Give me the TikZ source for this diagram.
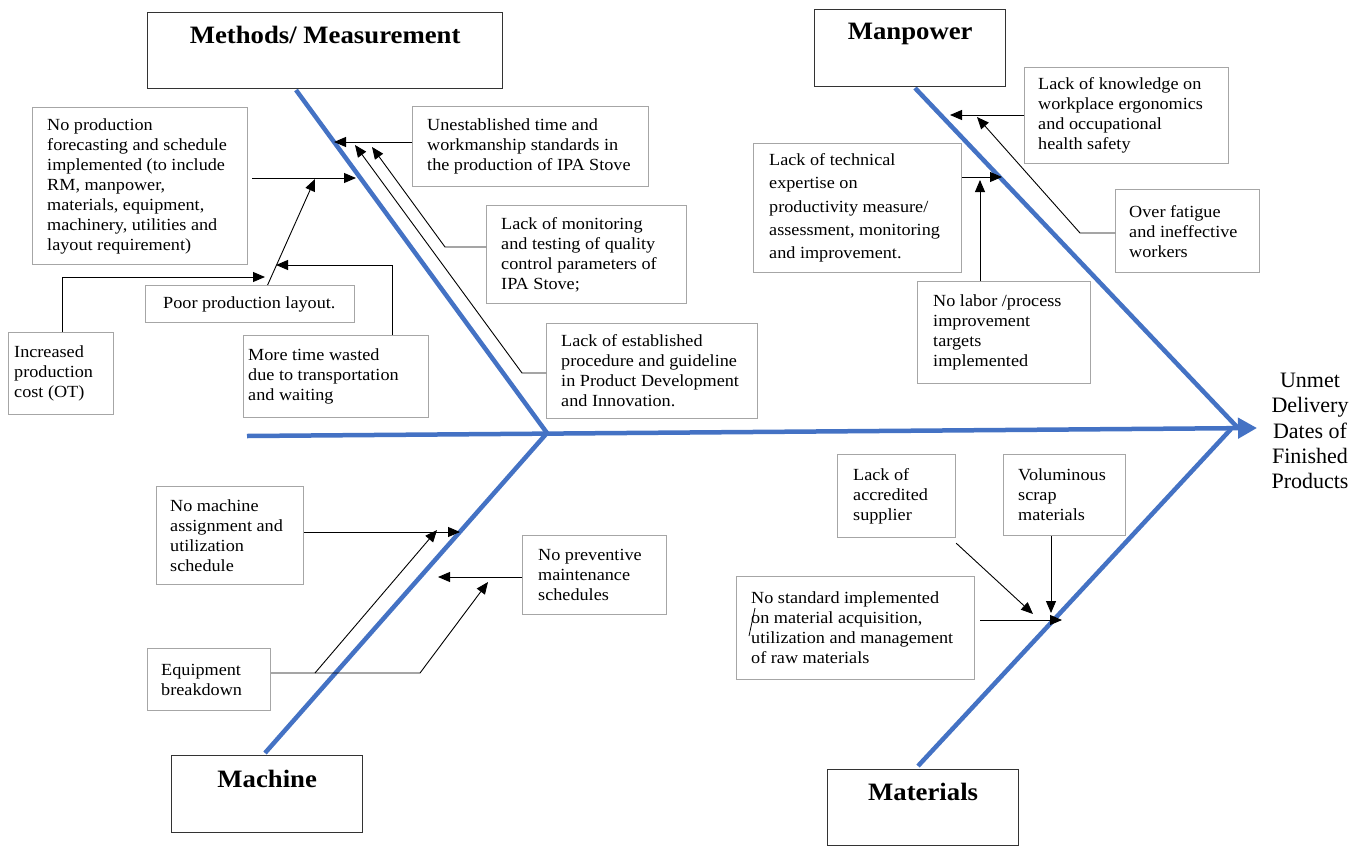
\documentclass[tikz,border=0pt]{standalone}
\usepackage{fontspec}
\newfontfamily\bodyfont[FakeStretch=1.07]{Liberation Serif}
\newfontfamily\effectfont{Liberation Serif}
\usetikzlibrary{arrows.meta}
\definecolor{bone}{HTML}{4472C4}
\begin{document}
\begin{tikzpicture}[x=1pt,y=-1pt,
  bonestyle/.style={draw=bone, line width=4.5pt},
  causebox/.style={draw=black!35, fill=white, line width=1.2pt, anchor=north west, inner sep=0pt},
  causetext/.style={anchor=west, align=left, inner sep=0pt, font=\bodyfont\fontsize{17}{20}\selectfont},
  catbox/.style={draw=black!80, fill=white, line width=1.3pt, anchor=north west, inner sep=0pt},
  cattitle/.style={inner sep=0pt, font=\bodyfont\bfseries\fontsize{25}{28}\selectfont},
  causearrow/.style={draw=black, line width=0.9pt, -{Triangle[length=12pt,width=10pt]}},
  plainline/.style={draw=black, line width=0.9pt}
]
\useasboundingbox (0,0) rectangle (1364,846);
\fill[white] (0,0) rectangle (1364,846);

% skeleton of the fishbone
\coordinate (tail) at (247,436);
\coordinate (head) at (1257,428);
\coordinate (joint) at (547,433);
\coordinate (methtop) at (296,90);
\coordinate (machbot) at (265,753);
\coordinate (mantop) at (915,88);
\coordinate (manend) at (1238,428);
\coordinate (matbot) at (918,766);
\coordinate (matend) at (1231,429);

\draw[bonestyle] (methtop) -- (joint) -- (machbot);
\draw[bonestyle] (mantop) -- (manend);
\draw[bonestyle] (matbot) -- (matend);
\draw[bonestyle, -{Triangle[length=19pt,width=20pt]}] (tail) -- (head);

% category boxes
\node[catbox, minimum width=355pt, minimum height=76pt] (meth) at (147,12) {};
\node[cattitle] at ([yshift=-23pt]meth.north) {Methods/ Measurement};
\node[catbox, minimum width=191pt, minimum height=77pt] (man) at (814,9) {};
\node[cattitle] at ([yshift=-25pt]man.north) {Manpower};
\node[catbox, minimum width=191pt, minimum height=77pt] (mach) at (171,755) {};
\node[cattitle] at ([yshift=-24pt]mach.north) {Machine};
\node[catbox, minimum width=191pt, minimum height=76pt] (mat) at (827,769) {};
\node[cattitle] at ([yshift=-23pt]mat.north) {Materials};

% effect
\node[align=center, inner sep=0pt, font=\effectfont\fontsize{22}{25.3}\selectfont] (effect) at (1310,431)
  {Unmet\\Delivery\\Dates of\\Finished\\Products};

% cause boxes: methods / measurement
\node[causebox, minimum width=215pt, minimum height=157pt] (forecast) at (32,107) {};
\node[causetext] at ([xshift=15pt]forecast.west) {No production\\forecasting and schedule\\implemented (to include\\RM, manpower,\\materials, equipment,\\machinery, utilities and\\layout requirement)};
\node[causebox, minimum width=209pt, minimum height=37pt] (layout) at (145,285) {};
\node[causetext] at ([xshift=18pt]layout.west) {Poor production layout.};
\node[causebox, minimum width=105pt, minimum height=82pt] (cost) at (8,332) {};
\node[causetext] at ([xshift=6pt]cost.west) {Increased\\production\\cost (OT)};
\node[causebox, minimum width=185pt, minimum height=82pt] (wasted) at (243,335) {};
\node[causetext] at ([xshift=5pt]wasted.west) {More time wasted\\due to transportation\\and waiting};
\node[causebox, minimum width=236pt, minimum height=80pt] (unest) at (412,106) {};
\node[causetext] at ([xshift=15pt]unest.west) {Unestablished time and\\workmanship standards in\\the production of IPA Stove};
\node[causebox, minimum width=200pt, minimum height=98pt] (monit) at (486,205) {};
\node[causetext] at ([xshift=15pt]monit.west) {Lack of monitoring\\and testing of quality\\control parameters of\\IPA Stove;};
\node[causebox, minimum width=211pt, minimum height=95pt] (estab) at (546,323) {};
\node[causetext] at ([xshift=15pt]estab.west) {Lack of established\\procedure and guideline\\in Product Development\\and Innovation.};

% cause boxes: manpower
\node[causebox, minimum width=204pt, minimum height=96pt] (knowl) at (1024,67) {};
\node[causetext] at ([xshift=14pt]knowl.west) {Lack of knowledge on\\workplace ergonomics\\and occupational\\health safety};
\node[causebox, minimum width=208pt, minimum height=129pt] (tech) at (753,143) {};
\node[causetext, font=\bodyfont\fontsize{17}{23.3}\selectfont] at ([xshift=16pt]tech.west) {Lack of technical\\expertise on\\productivity measure/\\assessment, monitoring\\and improvement.};
\node[causebox, minimum width=144pt, minimum height=83pt] (fatigue) at (1115,189) {};
\node[causetext] at ([xshift=14pt]fatigue.west) {Over fatigue\\and ineffective\\workers};
\node[causebox, minimum width=173pt, minimum height=102pt] (labor) at (917,281) {};
\node[causetext] at ([xshift=16pt]labor.west) {No labor /process\\improvement\\targets\\implemented};

% cause boxes: machine
\node[causebox, minimum width=147pt, minimum height=98pt] (massign) at (156,486) {};
\node[causetext] at ([xshift=14pt]massign.west) {No machine\\assignment and\\utilization\\schedule};
\node[causebox, minimum width=123pt, minimum height=62pt] (equip) at (147,648) {};
\node[causetext] at ([xshift=14pt]equip.west) {Equipment\\breakdown};
\node[causebox, minimum width=144pt, minimum height=79pt] (prevent) at (522,535) {};
\node[causetext] at ([xshift=16pt]prevent.west) {No preventive\\maintenance\\schedules};

% cause boxes: materials
\node[causebox, minimum width=118pt, minimum height=83pt] (accred) at (837,454) {};
\node[causetext] at ([xshift=16pt]accred.west) {Lack of\\accredited\\supplier};
\node[causebox, minimum width=122pt, minimum height=81pt] (volum) at (1003,454) {};
\node[causetext] at ([xshift=15pt]volum.west) {Voluminous\\scrap\\materials};
\node[causebox, minimum width=238pt, minimum height=103pt] (nostd) at (736,576) {};
\node[causetext] at ([xshift=15pt]nostd.west) {No standard implemented\\on material acquisition,\\utilization and management\\of raw materials};
\draw[black, line width=0.8pt] (755,608) -- (749,636);

% connectors: methods / measurement
\coordinate (m1) at (334,142);
\draw[causearrow] (unest.west |- m1) -- (m1);
\coordinate (m2b) at (445,247);
\coordinate (m2) at (372,147);
\draw[causearrow] (monit.west |- m2b) -- (m2b) -- (m2);
\coordinate (m3b) at (522,373);
\coordinate (m3) at (355,145);
\draw[causearrow] (estab.west |- m3b) -- (m3b) -- (m3);
\coordinate (m4s) at (252,178);
\coordinate (m4) at (356,178);
\draw[causearrow] (m4s) -- (m4);
\coordinate (m5) at (315,179);
\draw[causearrow] ([xshift=17.5pt]layout.north) -- (m5);
\coordinate (m6) at (265,277);
\draw[causearrow] ([xshift=1.5pt]cost.north) |- (m6);
\coordinate (m7) at (276,265);
\draw[causearrow] ([xshift=56.5pt]wasted.north) |- (m7);

% connectors: manpower
\coordinate (p1) at (950,115);
\draw[causearrow] (knowl.west |- p1) -- (p1);
\coordinate (p2b) at (1080,233);
\coordinate (p2) at (977,117);
\draw[causearrow] (fatigue.west |- p2b) -- (p2b) -- (p2);
\coordinate (p3) at (1002,177);
\draw[causearrow] (tech.east |- p3) -- (p3);
\coordinate (p4) at (980,180);
\draw[causearrow] (labor.north -| p4) -- (p4);

% connectors: machine
\coordinate (k1) at (460,532);
\draw[causearrow] (massign.east |- k1) -- (k1);
\coordinate (k2b) at (420,673);
\coordinate (k2) at (488,582);
\draw[causearrow] (equip.east |- k2b) -- (k2b) -- (k2);
\coordinate (k3s) at (315,673);
\coordinate (k3) at (437,530);
\draw[causearrow] (k3s) -- (k3);
\coordinate (k4) at (438,577);
\draw[causearrow] (prevent.west |- k4) -- (k4);

% connectors: materials
\coordinate (t1s) at (980,620);
\coordinate (t1) at (1062,620);
\draw[causearrow] (t1s) -- (t1);
\coordinate (t2) at (1033,614);
\draw[causearrow] ([yshift=-5pt]accred.south east) -- (t2);
\coordinate (t3) at (1051,613);
\draw[causearrow] (volum.south -| t3) -- (t3);
\end{tikzpicture}
\end{document}
